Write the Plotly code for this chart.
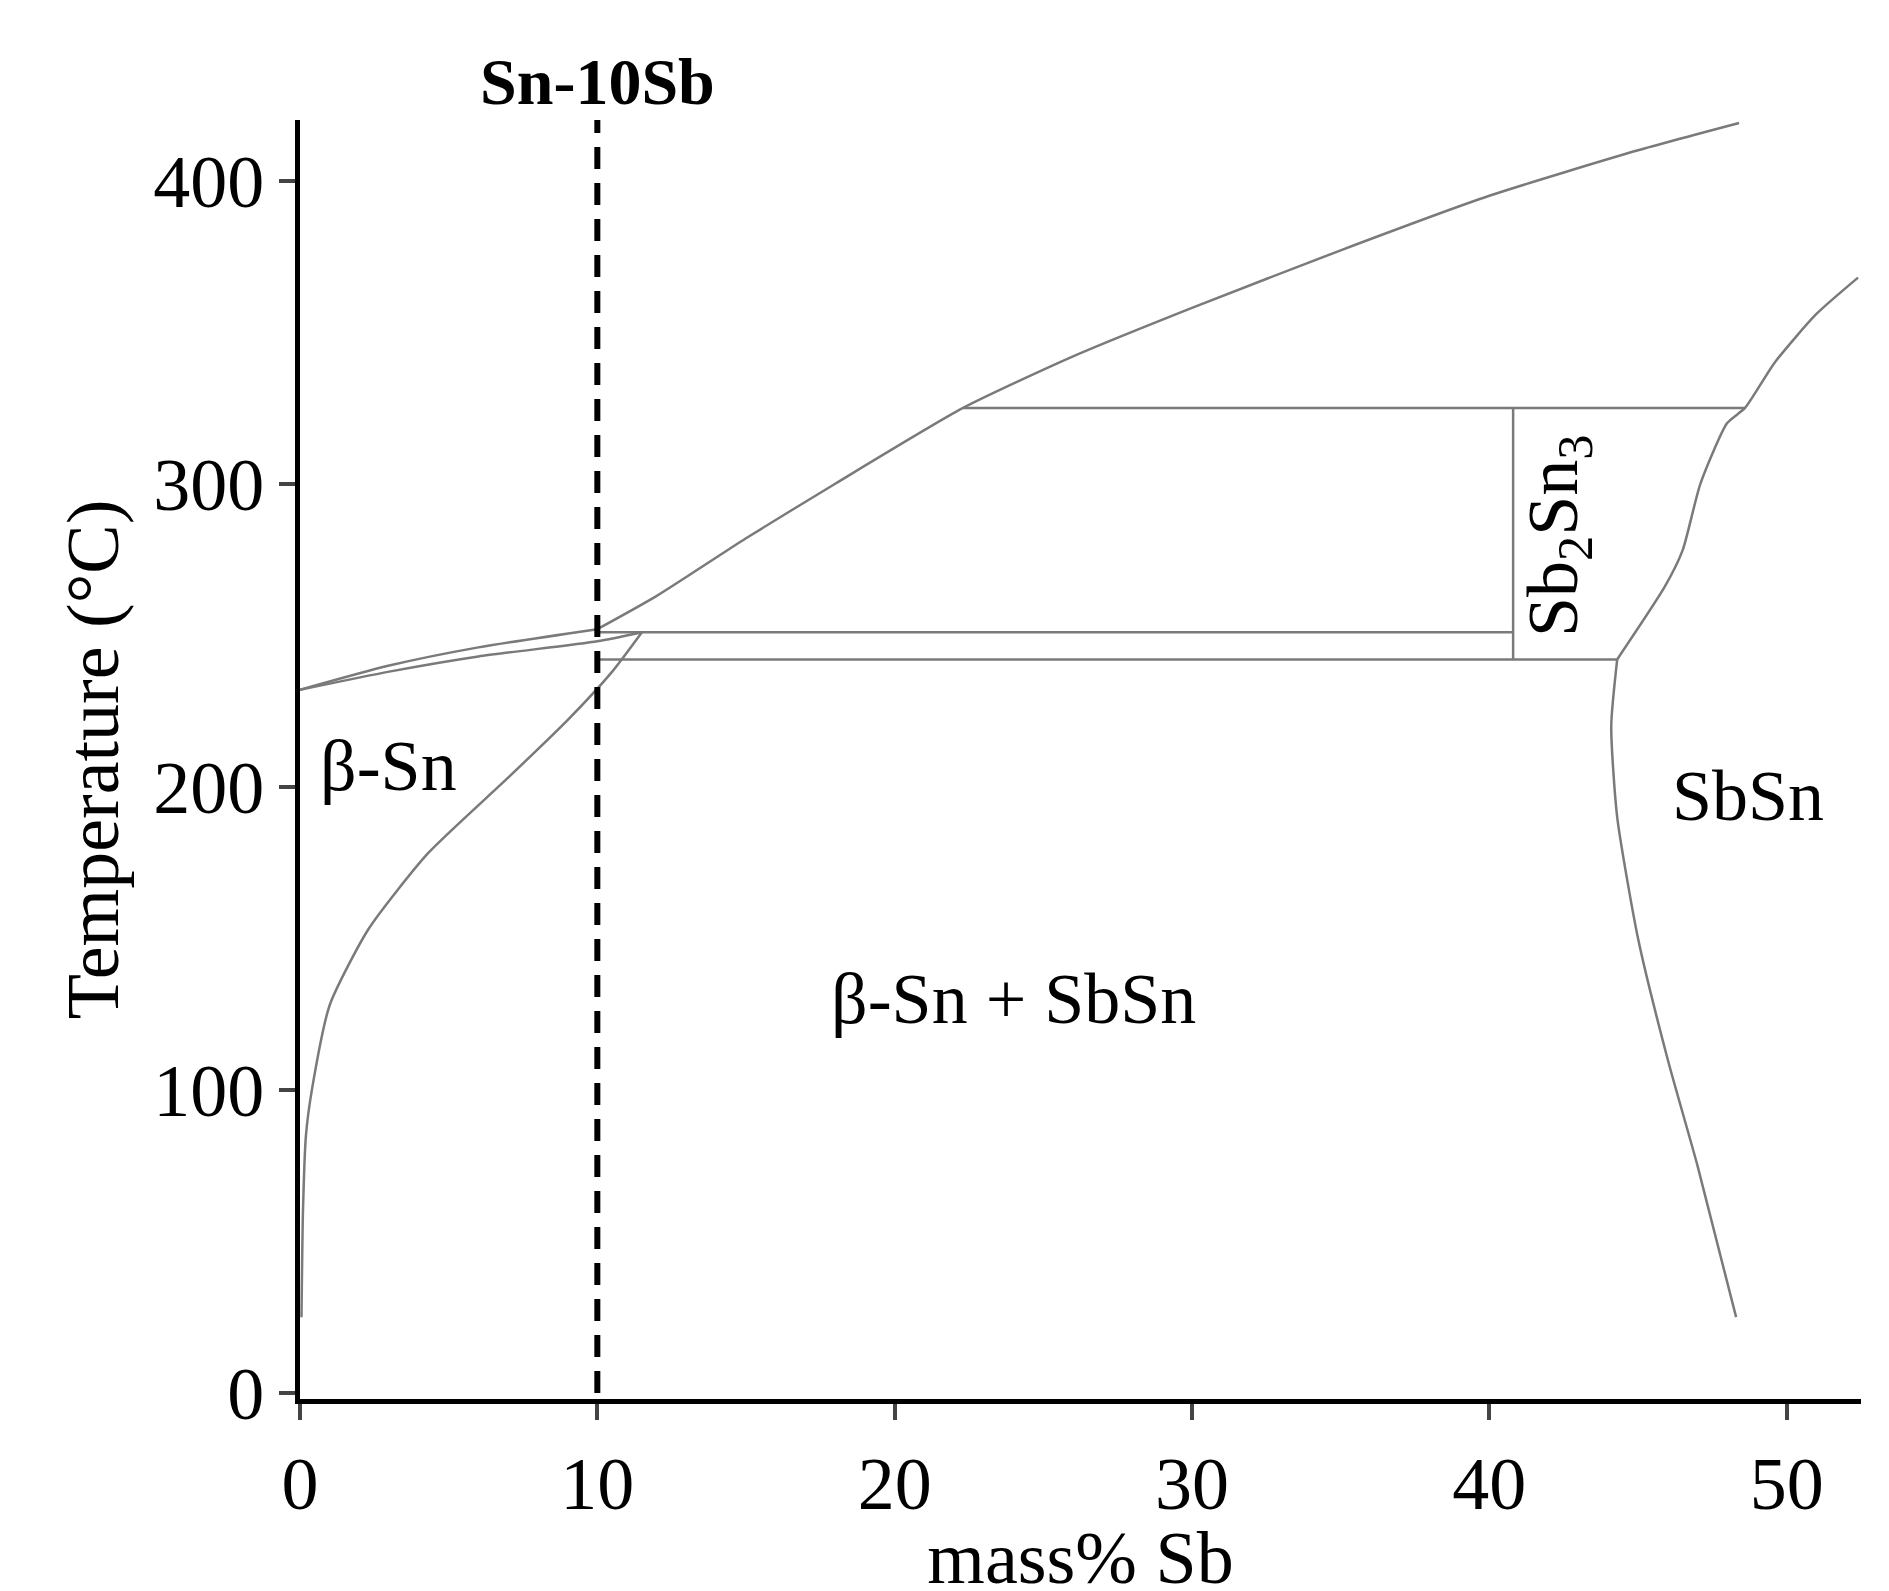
import plotly.graph_objects as go

liq1_x = [0, 3, 6, 10]
liq1_y = [232, 240, 246, 252]
liq2_x = [10, 12, 15, 18, 22.3, 26, 30, 35, 40, 45, 48.4]
liq2_y = [252, 263, 282, 300, 325, 342, 358, 377, 395, 410, 419]
sol_x = [0, 3, 6, 10, 11.5]
sol_y = [232, 238, 243, 248, 251]
solv_x = [0.05, 0.1, 0.2, 0.4, 1, 2.3, 4.3, 7, 9, 10.5, 11.5]
solv_y = [25, 60, 85, 100, 128, 153, 178, 203, 222, 238, 251]
sbsn_l_x = [44.3, 44.1, 44.3, 45, 46, 47, 48.3]
sbsn_l_y = [242, 220, 190, 150, 110, 75, 25]
sbsn_u_x = [44.3, 45.9, 46.5, 47.1, 48, 48.6, 49.6, 51, 52.4]
sbsn_u_y = [242, 266, 278, 300, 320, 325, 340, 356, 368]
h_lines = [(10, 40.8, 251), (10, 44.3, 242), (22.3, 48.6, 325)]
v_lines = [(40.8, 242, 325)]

grey = dict(color="#7a7a7a", width=2.5)
fig = go.Figure()
for xs, ys in [(liq1_x, liq1_y), (liq2_x, liq2_y), (sol_x, sol_y), (solv_x, solv_y),
               (sbsn_l_x, sbsn_l_y), (sbsn_u_x, sbsn_u_y)]:
    fig.add_trace(go.Scatter(x=xs, y=ys, mode="lines", line=dict(shape="spline", smoothing=0.6, **grey), showlegend=False))
for x0, x1, y in h_lines:
    fig.add_trace(go.Scatter(x=[x0, x1], y=[y, y], mode="lines", line=grey, showlegend=False))
for x, y0, y1 in v_lines:
    fig.add_trace(go.Scatter(x=[x, x], y=[y0, y1], mode="lines", line=grey, showlegend=False))
fig.add_trace(go.Scatter(x=[10, 10], y=[0, 420], mode="lines",
                         line=dict(color="black", width=6, dash="22px,14px"), showlegend=False))

F = "Liberation Serif"
ann = [
    dict(x=0.6, y=207, text="β-Sn", xanchor="left"),
    dict(x=24, y=130, text="β-Sn + SbSn"),
    dict(x=48.7, y=197, text="SbSn"),
    dict(x=42.3, y=283, text="Sb<sub>2</sub>Sn<sub>3</sub>", textangle=-90),
]
for a in ann:
    fig.add_annotation(showarrow=False, font=dict(family=F, size=72, color="black"), **a)
fig.add_annotation(x=10, y=1, yref="paper", yanchor="bottom", yshift=0, text="<b>Sn-10Sb</b>",
                   showarrow=False, font=dict(family=F, size=66, color="black"))

axis = dict(showline=True, linewidth=5, linecolor="black", ticks="outside", ticklen=16, tickwidth=4,
            showgrid=False, zeroline=False, tickfont=dict(family=F, size=74, color="black"))
fig.update_layout(
    width=1889, height=1591, plot_bgcolor="white", paper_bgcolor="white",
    margin=dict(l=292, r=36, t=112, b=200),
    xaxis=dict(range=[0, 52.5], tickvals=[0, 10, 20, 30, 40, 50],
               title=dict(text="mass% Sb", font=dict(family=F, size=74, color="black"), standoff=0), **axis),
    yaxis=dict(range=[-2, 420], tickvals=[0, 100, 200, 300, 400],
               title=dict(text="Temperature (°C)", font=dict(family=F, size=74, color="black"), standoff=12), **axis),
)
fig.write_html("out.html")
